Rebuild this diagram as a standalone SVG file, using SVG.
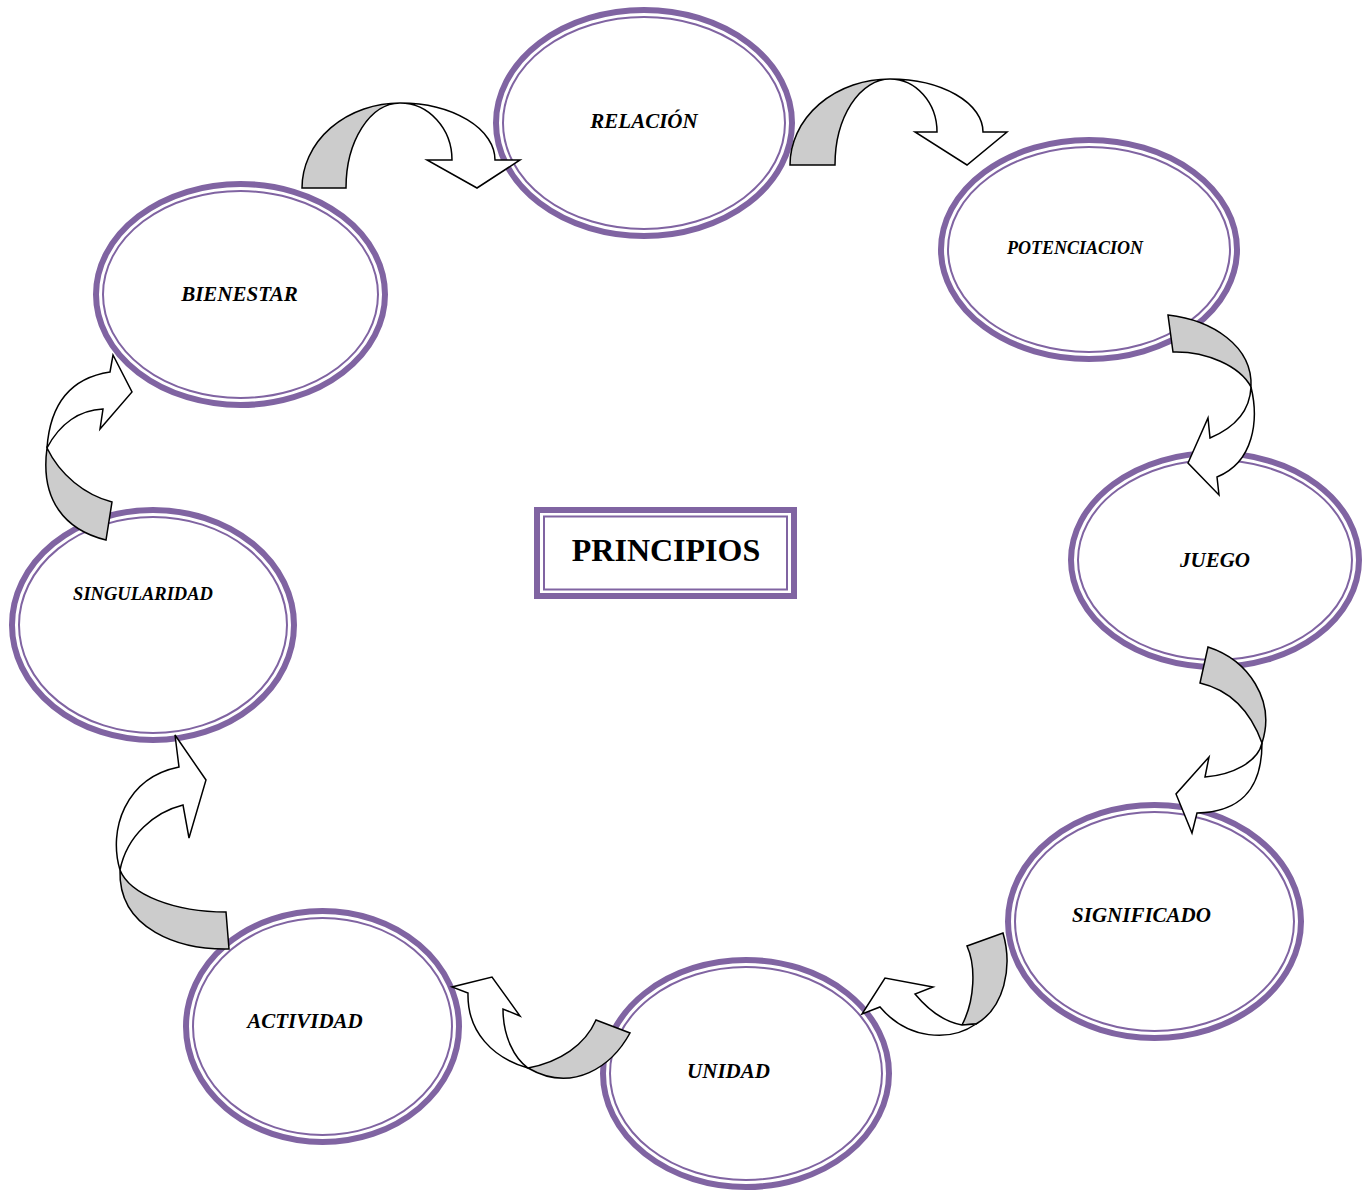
<svg xmlns="http://www.w3.org/2000/svg" width="1369" height="1193" viewBox="0 0 1369 1193">
<style>
.o{fill:#fff;stroke:#8064A2;stroke-width:6}
.i{fill:none;stroke:#8064A2;stroke-width:2}
.t{font-family:"Liberation Serif","Times New Roman",serif;font-weight:bold;font-style:italic;font-size:21px;fill:#000;text-anchor:middle}
.g{fill:#CCCCCC;stroke:#000;stroke-width:1.5;stroke-linejoin:miter}
.w{fill:#fff;stroke:#000;stroke-width:1.5;stroke-linejoin:miter}
</style>
<rect width="1369" height="1193" fill="#fff"/>
<g id="relacion"><ellipse class="o" cx="644" cy="123" rx="148" ry="113"/><ellipse class="i" cx="644" cy="123" rx="141" ry="106"/><text class="t" x="644" y="128">RELACIÓN</text></g>
<g id="potenciacion"><ellipse class="o" cx="1089" cy="249.5" rx="148" ry="109.5"/><ellipse class="i" cx="1089" cy="249.5" rx="141" ry="102.5"/><text class="t" x="1075" y="254" style="font-size:18px">POTENCIACION</text></g>
<g id="juego"><ellipse class="o" cx="1215" cy="560" rx="144" ry="107"/><ellipse class="i" cx="1215" cy="560" rx="137" ry="100"/><text class="t" x="1215" y="567">JUEGO</text></g>
<g id="significado"><ellipse class="o" cx="1154.5" cy="921.5" rx="146.5" ry="116.5"/><ellipse class="i" cx="1154.5" cy="921.5" rx="139.5" ry="109.5"/><text class="t" x="1141.5" y="922">SIGNIFICADO</text></g>
<g id="unidad"><ellipse class="o" cx="746" cy="1073.5" rx="143" ry="113.5"/><ellipse class="i" cx="746" cy="1073.5" rx="136" ry="106.5"/><text class="t" x="728.5" y="1078">UNIDAD</text></g>
<g id="actividad"><ellipse class="o" cx="322.5" cy="1026.5" rx="136.5" ry="115.5"/><ellipse class="i" cx="322.5" cy="1026.5" rx="129.5" ry="108.5"/><text class="t" x="305" y="1028">ACTIVIDAD</text></g>
<g id="singularidad"><ellipse class="o" cx="153" cy="625" rx="141" ry="115"/><ellipse class="i" cx="153" cy="625" rx="134" ry="108"/><text class="t" x="143" y="600" style="font-size:18.5px">SINGULARIDAD</text></g>
<g id="bienestar"><ellipse class="o" cx="240.5" cy="294.5" rx="144.5" ry="110.5"/><ellipse class="i" cx="240.5" cy="294.5" rx="137.5" ry="103.5"/><text class="t" x="239.5" y="301">BIENESTAR</text></g>
<g id="principios"><rect x="537" y="510" width="257" height="86" fill="#fff" stroke="#8064A2" stroke-width="6"/><rect x="544" y="516.5" width="243" height="73" fill="none" stroke="#8064A2" stroke-width="2"/><text x="666" y="561" style="font-family:'Liberation Serif','Times New Roman',serif;font-weight:bold;font-size:32px;text-anchor:middle">PRINCIPIOS</text></g>
<g id="connectors">
<path class="g" d="M302,188 A98,85 0 0 1 400,103 A54,85 0 0 0 346,188 Z"/>
<path class="w" d="M400,103 A95,57 0 0 1 495,160 L520,160 L477,188 L427,160 L452,160 A52,57 0 0 0 400,103 Z"/>
<path class="g" d="M790,165 A100,86 0 0 1 890,79 A55,86 0 0 0 835,165 Z"/>
<path class="w" d="M890,79 A93,53 0 0 1 983,132 L1007,132 L967,165 L915,132 L937,132 A47,53 0 0 0 890,79 Z"/>
<path class="g" d="M1168,315 C1212,320 1253,346 1251,387 C1240,366 1206,351 1173,352 Z"/>
<path class="w" d="M1251,387 C1259,420 1254,462 1217,477 L1219,495 L1188,463 L1208,418 L1210,438 C1236,427 1250,410 1251,387 Z"/>
<path class="g" d="M1208,647 C1248,660 1276,700 1262,743 C1250,710 1230,690 1200,683 Z"/>
<path class="w" d="M1262,743 C1262,792 1238,812 1197,813 L1192,833 L1176,794 L1209,757 L1205,777 C1232,775 1258,762 1262,743 Z"/>
<path class="g" d="M1003,933 C1013,968 1004,1008 976,1024 L962,1025 C975,1000 976,966 967,946 Z"/>
<path class="w" d="M976,1024 C950,1042 908,1040 880,1007 L862,1014 L885,978 L933,987 L915,994 C930,1012 945,1022 962,1025 Z"/>
<path class="g" d="M596,1020 L630,1033 C612,1066 573,1094 528,1068 C560,1062 585,1045 596,1020 Z"/>
<path class="w" d="M528,1068 C493,1058 467,1032 468,993 L452,987 L492,977 L520,1016 L503,1009 C503,1036 514,1058 528,1068 Z"/>
<path class="g" d="M226,912 L229,949 C180,950 118,930 120,870 C130,895 175,912 226,912 Z"/>
<path class="w" d="M120,870 C108,830 125,778 179,767 L175,735 L206,780 L189,838 L183,805 C155,812 127,835 120,870 Z"/>
<path class="g" d="M112,502 L106,540 C65,530 40,500 47,448 C60,475 85,495 112,502 Z"/>
<path class="w" d="M47,448 C50,405 70,378 110,372 L113,355 L132,392 L100,429 L103,409 C80,410 60,423 47,448 Z"/>
</g>
</svg>
